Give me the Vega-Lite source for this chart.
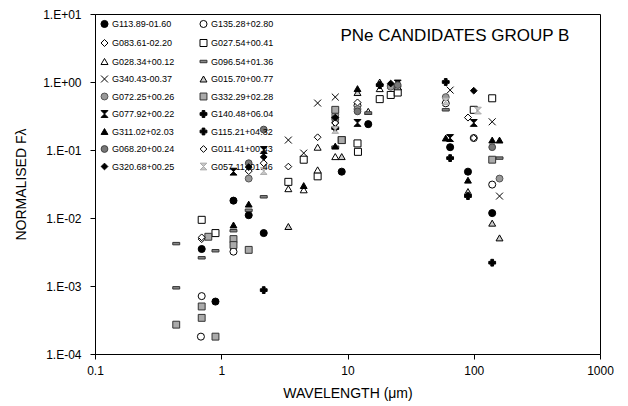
{
  "$schema": "https://vega.github.io/schema/vega-lite/v6.json",
  "width": 505,
  "height": 340,
  "autosize": {"type": "none"},
  "padding": {"left": 95, "top": 14, "right": 28, "bottom": 52},
  "background": "white",
  "config": {
    "font": "Liberation Sans",
    "view": {"stroke": "#000", "strokeWidth": 1},
    "axis": {"grid": false, "domainColor": "#000", "tickColor": "#000", "labelColor": "#000", "titleColor": "#000", "titleFontWeight": "normal", "labelFont": "Liberation Sans", "titleFont": "Liberation Sans"}
  },
  "title": {"text": "PNe CANDIDATES GROUP B", "anchor": "end", "offset": -37, "dx": -44, "fontSize": 17, "fontWeight": "normal", "color": "#000", "font": "Liberation Sans"},
  "data": {"values": [
    {"s": "G113.89-01.60", "w": 0.7, "f": 0.0035},
    {"s": "G113.89-01.60", "w": 0.9, "f": 0.00059},
    {"s": "G113.89-01.60", "w": 1.25, "f": 0.018},
    {"s": "G113.89-01.60", "w": 1.65, "f": 0.011},
    {"s": "G113.89-01.60", "w": 2.17, "f": 0.006},
    {"s": "G113.89-01.60", "w": 9.0, "f": 0.048},
    {"s": "G113.89-01.60", "w": 14.6, "f": 0.24},
    {"s": "G113.89-01.60", "w": 65, "f": 0.11},
    {"s": "G113.89-01.60", "w": 90, "f": 0.048},
    {"s": "G113.89-01.60", "w": 140, "f": 0.0118},

    {"s": "G135.28+02.80", "w": 0.7, "f": 0.00071},
    {"s": "G135.28+02.80", "w": 0.69, "f": 0.00018},
    {"s": "G135.28+02.80", "w": 1.25, "f": 0.0032},
    {"s": "G135.28+02.80", "w": 8.0, "f": 0.3},
    {"s": "G135.28+02.80", "w": 12, "f": 0.45},
    {"s": "G135.28+02.80", "w": 60, "f": 0.486},
    {"s": "G135.28+02.80", "w": 100, "f": 0.15},
    {"s": "G135.28+02.80", "w": 140, "f": 0.031},

    {"s": "G083.61-02.20", "w": 0.7, "f": 0.0049},
    {"s": "G083.61-02.20", "w": 1.65, "f": 0.049},
    {"s": "G083.61-02.20", "w": 2.17, "f": 0.064},
    {"s": "G083.61-02.20", "w": 8.0, "f": 0.25},
    {"s": "G083.61-02.20", "w": 12, "f": 0.5},
    {"s": "G083.61-02.20", "w": 22, "f": 0.9},
    {"s": "G083.61-02.20", "w": 90, "f": 0.3},

    {"s": "G027.54+00.41", "w": 0.7, "f": 0.0094},
    {"s": "G027.54+00.41", "w": 0.9, "f": 0.006},
    {"s": "G027.54+00.41", "w": 3.4, "f": 0.034},
    {"s": "G027.54+00.41", "w": 4.5, "f": 0.072},
    {"s": "G027.54+00.41", "w": 5.8, "f": 0.041},
    {"s": "G027.54+00.41", "w": 9.0, "f": 0.14},
    {"s": "G027.54+00.41", "w": 12, "f": 0.125},
    {"s": "G027.54+00.41", "w": 12.1, "f": 0.094},
    {"s": "G027.54+00.41", "w": 18, "f": 0.56},
    {"s": "G027.54+00.41", "w": 22, "f": 0.645},
    {"s": "G027.54+00.41", "w": 25, "f": 0.7},
    {"s": "G027.54+00.41", "w": 100, "f": 0.39},
    {"s": "G027.54+00.41", "w": 140, "f": 0.576},

    {"s": "G028.34+00.12", "w": 3.4, "f": 0.027},
    {"s": "G028.34+00.12", "w": 4.5, "f": 0.026},
    {"s": "G028.34+00.12", "w": 5.8, "f": 0.11},
    {"s": "G028.34+00.12", "w": 5.8, "f": 0.051},
    {"s": "G028.34+00.12", "w": 8.0, "f": 0.08},
    {"s": "G028.34+00.12", "w": 14.6, "f": 0.37},
    {"s": "G028.34+00.12", "w": 18, "f": 0.8},
    {"s": "G028.34+00.12", "w": 22, "f": 0.9},
    {"s": "G028.34+00.12", "w": 25, "f": 0.85},

    {"s": "G096.54+01.36", "w": 0.44, "f": 0.0042},
    {"s": "G096.54+01.36", "w": 0.44, "f": 0.00094},
    {"s": "G096.54+01.36", "w": 0.7, "f": 0.0026},
    {"s": "G096.54+01.36", "w": 0.9, "f": 0.0033},
    {"s": "G096.54+01.36", "w": 1.25, "f": 0.0065},
    {"s": "G096.54+01.36", "w": 1.65, "f": 0.013},
    {"s": "G096.54+01.36", "w": 2.17, "f": 0.0205},
    {"s": "G096.54+01.36", "w": 8.0, "f": 0.11},
    {"s": "G096.54+01.36", "w": 14.6, "f": 0.35},
    {"s": "G096.54+01.36", "w": 60, "f": 0.39},
    {"s": "G096.54+01.36", "w": 160, "f": 0.076},

    {"s": "G340.43-00.37", "w": 3.4, "f": 0.14},
    {"s": "G340.43-00.37", "w": 4.5, "f": 0.09},
    {"s": "G340.43-00.37", "w": 5.8, "f": 0.49},
    {"s": "G340.43-00.37", "w": 8.0, "f": 0.6},
    {"s": "G340.43-00.37", "w": 65, "f": 0.76},
    {"s": "G340.43-00.37", "w": 140, "f": 0.26},
    {"s": "G340.43-00.37", "w": 160, "f": 0.021},

    {"s": "G015.70+00.77", "w": 3.4, "f": 0.0075},
    {"s": "G015.70+00.77", "w": 9.0, "f": 0.08},
    {"s": "G015.70+00.77", "w": 12, "f": 0.7},
    {"s": "G015.70+00.77", "w": 18, "f": 1.0},
    {"s": "G015.70+00.77", "w": 90, "f": 0.0245},
    {"s": "G015.70+00.77", "w": 140, "f": 0.0084},
    {"s": "G015.70+00.77", "w": 160, "f": 0.0051},

    {"s": "G072.25+00.26", "w": 1.65, "f": 0.038},
    {"s": "G072.25+00.26", "w": 8.0, "f": 0.33},
    {"s": "G072.25+00.26", "w": 12, "f": 0.4},
    {"s": "G072.25+00.26", "w": 22, "f": 0.85},
    {"s": "G072.25+00.26", "w": 60, "f": 0.6},
    {"s": "G072.25+00.26", "w": 160, "f": 0.038},

    {"s": "G332.29+02.28", "w": 0.44, "f": 0.00027},
    {"s": "G332.29+02.28", "w": 0.7, "f": 0.00034},
    {"s": "G332.29+02.28", "w": 0.7, "f": 0.0005},
    {"s": "G332.29+02.28", "w": 0.79, "f": 0.0053},
    {"s": "G332.29+02.28", "w": 0.9, "f": 0.00018},
    {"s": "G332.29+02.28", "w": 1.25, "f": 0.0049},
    {"s": "G332.29+02.28", "w": 1.25, "f": 0.004},
    {"s": "G332.29+02.28", "w": 1.65, "f": 0.0034},
    {"s": "G332.29+02.28", "w": 8.0, "f": 0.39},
    {"s": "G332.29+02.28", "w": 9.0, "f": 0.14},
    {"s": "G332.29+02.28", "w": 140, "f": 0.072},

    {"s": "G077.92+00.22", "w": 1.25, "f": 0.048},
    {"s": "G077.92+00.22", "w": 2.17, "f": 0.1},
    {"s": "G077.92+00.22", "w": 8.0, "f": 0.23},
    {"s": "G077.92+00.22", "w": 12, "f": 0.25},
    {"s": "G077.92+00.22", "w": 25, "f": 0.95},
    {"s": "G077.92+00.22", "w": 65, "f": 0.15},
    {"s": "G077.92+00.22", "w": 100, "f": 0.25},

    {"s": "G140.48+06.04", "w": 8.0, "f": 0.21},
    {"s": "G140.48+06.04", "w": 18, "f": 0.9},
    {"s": "G140.48+06.04", "w": 60, "f": 1.0},

    {"s": "G311.02+02.03", "w": 1.25, "f": 0.0079},
    {"s": "G311.02+02.03", "w": 1.65, "f": 0.016},
    {"s": "G311.02+02.03", "w": 4.5, "f": 0.03},
    {"s": "G311.02+02.03", "w": 8.0, "f": 0.114},
    {"s": "G311.02+02.03", "w": 12, "f": 0.8},
    {"s": "G311.02+02.03", "w": 60, "f": 0.15},
    {"s": "G311.02+02.03", "w": 90, "f": 0.036},
    {"s": "G311.02+02.03", "w": 140, "f": 0.14},
    {"s": "G311.02+02.03", "w": 160, "f": 0.14},

    {"s": "G115.21+04.32", "w": 2.17, "f": 0.00087},
    {"s": "G115.21+04.32", "w": 65, "f": 0.076},
    {"s": "G115.21+04.32", "w": 90, "f": 0.021},
    {"s": "G115.21+04.32", "w": 140, "f": 0.0022},

    {"s": "G068.20+00.24", "w": 1.65, "f": 0.064},
    {"s": "G068.20+00.24", "w": 2.17, "f": 0.2},
    {"s": "G068.20+00.24", "w": 8.0, "f": 0.28},
    {"s": "G068.20+00.24", "w": 12, "f": 0.37},
    {"s": "G068.20+00.24", "w": 25, "f": 0.9},
    {"s": "G068.20+00.24", "w": 140, "f": 0.11},

    {"s": "G011.41+00.43", "w": 0.7, "f": 0.0052},
    {"s": "G011.41+00.43", "w": 3.4, "f": 0.057},
    {"s": "G011.41+00.43", "w": 5.8, "f": 0.154},
    {"s": "G011.41+00.43", "w": 8.0, "f": 0.25},
    {"s": "G011.41+00.43", "w": 100, "f": 0.15},

    {"s": "G320.68+00.25", "w": 1.65, "f": 0.056},
    {"s": "G320.68+00.25", "w": 2.17, "f": 0.079},
    {"s": "G320.68+00.25", "w": 8.0, "f": 0.3},
    {"s": "G320.68+00.25", "w": 22, "f": 0.95},
    {"s": "G320.68+00.25", "w": 100, "f": 0.745},

    {"s": "G057.11+01.46", "w": 2.17, "f": 0.049},
    {"s": "G057.11+01.46", "w": 8.0, "f": 0.197},
    {"s": "G057.11+01.46", "w": 60, "f": 0.52},
    {"s": "G057.11+01.46", "w": 108, "f": 0.38}
  ]},
  "mark": {"type": "point", "opacity": 1, "filled": false},
  "encoding": {
    "x": {"field": "w", "type": "quantitative",
      "scale": {"type": "log", "domain": [0.1, 1000], "nice": false},
      "axis": {"values": [0.1, 1, 10, 100, 1000], "format": "~g", "title": "WAVELENGTH (μm)", "labelFontSize": 12, "titleFontSize": 14, "tickSize": 5, "labelPadding": 6, "titlePadding": 10, "labelFlush": false}},
    "y": {"field": "f", "type": "quantitative",
      "scale": {"type": "log", "domain": [0.0001, 10], "nice": false},
      "axis": {"values": [0.0001, 0.001, 0.01, 0.1, 1, 10], "labelExpr": "'1.E' + (datum.value >= 0.99 ? '+' : '-') + (abs(round(log(datum.value)/LN10)) < 10 ? '0' : '') + abs(round(log(datum.value)/LN10))", "title": "NORMALISED Fλ", "labelFontSize": 12, "titleFontSize": 14, "tickSize": 5, "labelPadding": 9, "titlePadding": 14, "labelFlush": false}},
    "shape": {"field": "s", "type": "nominal",
      "scale": {"domain": ["G113.89-01.60","G135.28+02.80","G083.61-02.20","G027.54+00.41","G028.34+00.12","G096.54+01.36","G340.43-00.37","G015.70+00.77","G072.25+00.26","G332.29+02.28","G077.92+00.22","G140.48+06.04","G311.02+02.03","G115.21+04.32","G068.20+00.24","G011.41+00.43","G320.68+00.25","G057.11+01.46"],
        "range": ["circle","circle","diamond","square","triangle-up","M-1,-0.35L1,-0.35L1,0.35L-1,0.35Z","M-1,-1L1,1M-1,1L1,-1","triangle-up","circle","square","M-1,-1L1,-1L-1,1L1,1Z","cross","triangle-up","cross","circle","diamond","diamond","M-1,-1L1,-1L-1,1L1,1Z"]},
      "legend": {"orient": "top-left", "columns": 2, "direction": "horizontal", "title": null, "offset": 3, "padding": 2, "labelFontSize": 9, "labelFont": "Liberation Sans", "labelColor": "#000", "rowPadding": 6.5, "columnPadding": 22, "labelOffset": 3}},
    "fill": {"field": "s", "type": "nominal",
      "scale": {"domain": ["G113.89-01.60","G135.28+02.80","G083.61-02.20","G027.54+00.41","G028.34+00.12","G096.54+01.36","G340.43-00.37","G015.70+00.77","G072.25+00.26","G332.29+02.28","G077.92+00.22","G140.48+06.04","G311.02+02.03","G115.21+04.32","G068.20+00.24","G011.41+00.43","G320.68+00.25","G057.11+01.46"],
        "range": ["#000000","#ffffff","#ffffff","#ffffff","#ffffff","#888888","transparent","#cccccc","#999999","#aaaaaa","#000000","#000000","#000000","#000000","#777777","#ffffff","#000000","#c8c8c8"]},
      "legend": {"orient": "top-left", "columns": 2, "direction": "horizontal", "title": null}},
    "stroke": {"field": "s", "type": "nominal",
      "scale": {"domain": ["G113.89-01.60","G135.28+02.80","G083.61-02.20","G027.54+00.41","G028.34+00.12","G096.54+01.36","G340.43-00.37","G015.70+00.77","G072.25+00.26","G332.29+02.28","G077.92+00.22","G140.48+06.04","G311.02+02.03","G115.21+04.32","G068.20+00.24","G011.41+00.43","G320.68+00.25","G057.11+01.46"],
        "range": ["#000000","#000000","#000000","#000000","#000000","#333333","#000000","#000000","#555555","#333333","#000000","#000000","#000000","#000000","#444444","#000000","#000000","#aaaaaa"]},
      "legend": {"orient": "top-left", "columns": 2, "direction": "horizontal", "title": null}},
    "size": {"field": "s", "type": "nominal",
      "scale": {"domain": ["G113.89-01.60","G135.28+02.80","G083.61-02.20","G027.54+00.41","G028.34+00.12","G096.54+01.36","G340.43-00.37","G015.70+00.77","G072.25+00.26","G332.29+02.28","G077.92+00.22","G140.48+06.04","G311.02+02.03","G115.21+04.32","G068.20+00.24","G011.41+00.43","G320.68+00.25","G057.11+01.46"],
        "range": [50,45,50,55,45,100,64,45,55,36,36,40,45,14,55,30,45,36]},
      "legend": {"orient": "top-left", "columns": 2, "direction": "horizontal", "title": null}},
    "strokeWidth": {"field": "s", "type": "nominal",
      "scale": {"domain": ["G113.89-01.60","G135.28+02.80","G083.61-02.20","G027.54+00.41","G028.34+00.12","G096.54+01.36","G340.43-00.37","G015.70+00.77","G072.25+00.26","G332.29+02.28","G077.92+00.22","G140.48+06.04","G311.02+02.03","G115.21+04.32","G068.20+00.24","G011.41+00.43","G320.68+00.25","G057.11+01.46"],
        "range": [1,1,1,1,1,1,1,1,1,1,1,1,1,1,1,2,1,1]},
      "legend": {"orient": "top-left", "columns": 2, "direction": "horizontal", "title": null}}
  }
}
